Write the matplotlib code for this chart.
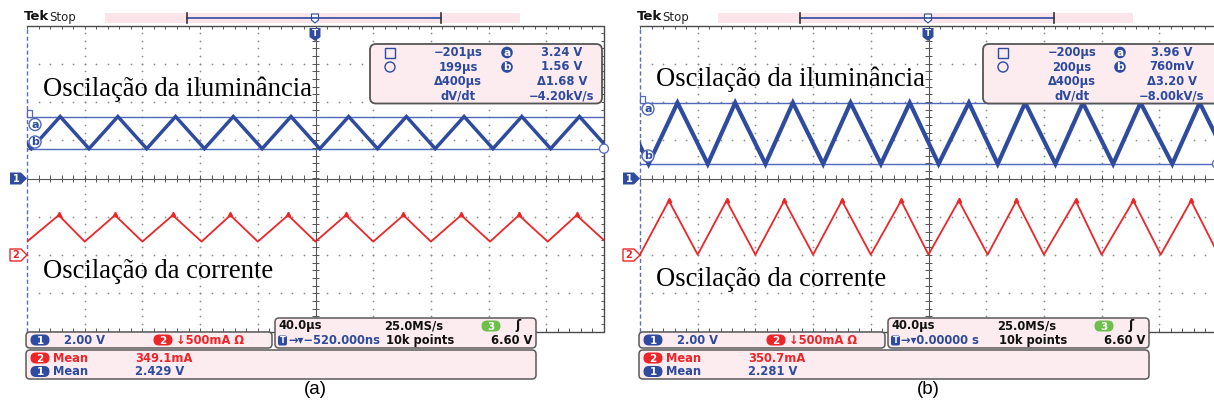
import matplotlib
matplotlib.use("Agg")
import matplotlib.pyplot as plt
from matplotlib.patches import FancyBboxPatch, Rectangle, Polygon, Circle
from matplotlib.collections import LineCollection
import numpy as np

W, H = 1214, 405

# ---------------- data ----------------
time_per_div_us = 40.0
ch1_volts_per_div = 2.0
ch2_amps_per_div = 0.5

# panel (a) - channel 1 (illuminance, V)
a_ch1_peak_t = [-217, -177, -137, -97, -57, -17, 23, 63, 103, 143, 183]
a_ch1_trough_t = [-197, -157, -117, -77, -37, 3, 43, 83, 123, 163, 203]
a_ch1_peak_v = 3.24
a_ch1_trough_v = 1.56
# panel (a) - channel 2 (current, A)
a_ch2_peak_t = [-218, -178, -139, -99, -59, -19, 21, 61, 101, 141, 181]
a_ch2_trough_t = [-200, -160, -120, -79, -40, 0, 40, 80, 121, 161, 201]
a_ch2_peak_a = 0.52
a_ch2_trough_a = 0.175

# panel (b) - channel 1
b_ch1_peak_t = [-214, -174, -134, -94, -54, -13, 28, 67, 107, 147, 188]
b_ch1_trough_t = [-194, -153, -113, -73, -33, 7, 48, 88, 128, 169, 209]
b_ch1_peak_v = 3.96
b_ch1_trough_v = 0.76
# panel (b) - channel 2
b_ch2_peak_t = [-220, -180, -140, -100, -60, -19, 21, 61, 102, 142, 182]
b_ch2_trough_t = [-200, -160, -120, -80, -40, 0, 41, 80, 120, 161, 201]
b_ch2_peak_a = 0.71
b_ch2_trough_a = 0.005

# cursor readouts
a_cursor_times = ["\u2212201\u00b5s", "199\u00b5s", "\u0394400\u00b5s", "dV/dt"]
a_cursor_vals = ["3.24 V", "1.56 V", "\u03941.68 V", "\u22124.20kV/s"]
b_cursor_times = ["\u2212200\u00b5s", "200\u00b5s", "\u0394400\u00b5s", "dV/dt"]
b_cursor_vals = ["3.96 V", "760mV", "\u03943.20 V", "\u22128.00kV/s"]

# status bars
ch1_scale_txt = "2.00 V"
ch2_scale_txt = "\u2193500mA \u03a9"
timebase_txt = "40.0\u00b5s"
sample_txt = "25.0MS/s"
points_txt = "10k points"
trig_level_txt = "6.60 V"
a_trig_pos_txt = "\u2192\u25be\u2212520.000ns"
b_trig_pos_txt = "\u2192\u25be0.00000 s"
a_mean_ch2 = "349.1mA"
a_mean_ch1 = "2.429 V"
b_mean_ch2 = "350.7mA"
b_mean_ch1 = "2.281 V"

label_illum = "Oscila\u00e7\u00e3o da ilumin\u00e2ncia"
label_curr = "Oscila\u00e7\u00e3o da corrente"
panel_labels = ["(a)", "(b)"]

# ---------------- styling ----------------
BLUE_W = "#2f4b9f"
BLUE_T = "#2c4a9e"
CURSOR = "#5069bb"
RED = "#ec2529"
PINK = "#fcebef"
EDGE = "#5a5a5a"
GRID = "#8c8c8c"
GREEN = "#6cc04a"
TEK_FONT = "DejaVu Sans"

fig = plt.figure(figsize=(W / 100, H / 100), dpi=100)
fig.patch.set_facecolor("white")


def zigzag(peaks_t, peak_v, troughs_t, trough_v):
    pts = [(t, peak_v) for t in peaks_t] + [(t, trough_v) for t in troughs_t]
    pts.sort()
    return [p[0] for p in pts], [p[1] for p in pts]


GRID_TOP, GRID_BOT = 25.5, 331.5
GRID_W = 577


def make_screen(left_px):
    ax = fig.add_axes([left_px / W, 1 - GRID_BOT / H, GRID_W / W, (GRID_BOT - GRID_TOP) / H])
    ax.set_xlim(-5 * time_per_div_us, 5 * time_per_div_us)
    ax.set_ylim(-4 * ch1_volts_per_div, 4 * ch1_volts_per_div)
    ax.axis("off")
    ax.set_zorder(1)
    ax2 = ax.twinx()
    # channel 2 ground is 2 divisions below centre
    ax2.set_ylim(-2 * ch2_amps_per_div, 6 * ch2_amps_per_div)
    ax2.axis("off")
    ax2.set_zorder(2)
    ax2.patch.set_visible(False)

    td = time_per_div_us
    vd = ch1_volts_per_div
    # dotted graticule
    ys = np.arange(-4, 4.01, 0.2) * vd
    xs = np.arange(-5, 5.01, 0.2) * td
    for k in [-4, -3, -2, -1, 1, 2, 3, 4]:
        ax.scatter(np.full(ys.size, k * td), ys, s=1.6, c=GRID, lw=0, zorder=1)
    for k in [-3, -2, -1, 1, 2, 3]:
        ax.scatter(xs, np.full(xs.size, k * vd), s=1.6, c=GRID, lw=0, zorder=1)
    # centre cross with ticks
    ax.plot([-5 * td, 5 * td], [0, 0], color="#555555", lw=0.8, zorder=2)
    ax.plot([0, 0], [-4 * vd, 4 * vd], color="#555555", lw=0.8, zorder=2)
    th = 0.09 * vd
    tw = 0.09 * td * (38.25 / 57.7)
    segs = [[(x, -th), (x, th)] for x in xs]
    segs += [[(-tw, y), (tw, y)] for y in ys]
    segs += [[(x, 4 * vd), (x, 4 * vd - th)] for x in xs]
    segs += [[(x, -4 * vd), (x, -4 * vd + th)] for x in xs]
    segs += [[(5 * td, y), (5 * td - tw, y)] for y in ys]
    ax.add_collection(LineCollection(segs, colors="#555555", linewidths=0.7, zorder=2))
    # border
    ax.plot([-5 * td, 5 * td, 5 * td, -5 * td], [4 * vd, 4 * vd, -4 * vd, -4 * vd],
            color="#4a4a4a", lw=1.0, clip_on=False, zorder=3)
    ax.plot([-5 * td, -5 * td], [-4 * vd, 4 * vd], color="#5a6fb5", lw=1.0,
            ls=(0, (3, 2)), clip_on=False, zorder=3)
    return ax, ax2


screens = [make_screen(27), make_screen(640)]

ch1_sets = [
    (a_ch1_peak_t, a_ch1_peak_v, a_ch1_trough_t, a_ch1_trough_v, 2.5),
    (b_ch1_peak_t, b_ch1_peak_v, b_ch1_trough_t, b_ch1_trough_v, 3.0),
]
ch2_sets = [
    (a_ch2_peak_t, a_ch2_peak_a, a_ch2_trough_t, a_ch2_trough_a),
    (b_ch2_peak_t, b_ch2_peak_a, b_ch2_trough_t, b_ch2_trough_a),
]

for (ax, ax2), c1, c2 in zip(screens, ch1_sets, ch2_sets):
    t, v = zigzag(c1[0], c1[1], c1[2], c1[3])
    ax.axhline(c1[1], color=CURSOR, lw=1.0, zorder=4)
    ax.axhline(c1[3], color=CURSOR, lw=1.0, zorder=4)
    ax.plot(t, v, color=BLUE_W, lw=c1[4], solid_joinstyle="miter", zorder=5)
    t2, i2 = zigzag(c2[0], c2[1], c2[2], c2[3])
    ax2.plot(t2, i2, color=RED, lw=1.3, zorder=5)
    ax2.plot(c2[0], [c2[1] + 0.012] * len(c2[0]), ls="none", marker="^", ms=3.2,
             color=RED, zorder=6)

# ---------------- overlay (pixel coordinates) ----------------
ov = fig.add_axes([0, 0, 1, 1])
ov.set_xlim(0, W)
ov.set_ylim(H, 0)
ov.axis("off")
ov.set_zorder(10)
ov.patch.set_visible(False)


def rbox(x0, y0, x1, y1, r=4, fc=PINK, ec=EDGE, lw=1.1):
    ov.add_patch(FancyBboxPatch((x0, y0), x1 - x0, y1 - y0,
                                boxstyle=f"round,pad=0,rounding_size={r}",
                                fc=fc, ec=ec, lw=lw))


def pill(cx, cy, txt, fc, w=19, h=11, tc="white"):
    ov.add_patch(FancyBboxPatch((cx - w / 2, cy - h / 2), w, h,
                                boxstyle=f"round,pad=0,rounding_size={h / 2}",
                                fc=fc, ec="none"))
    ov.text(cx, cy + 0.5, txt, color=tc, fontsize=7.5, fontweight="bold",
            family=TEK_FONT, ha="center", va="center")


def tektext(x, y, s, color, ha="left", size=8.3, weight="bold"):
    ov.text(x, y, s, color=color, fontsize=size, fontweight=weight,
            family=TEK_FONT, ha=ha, va="center")


panel_cfg = [
    dict(off=0, times=a_cursor_times, vals=a_cursor_vals, trig=a_trig_pos_txt,
         m2=a_mean_ch2, m1=a_mean_ch1, la=(35, 124.5), lb=(35, 142),
         ya=a_ch1_peak_v, yb=a_ch1_trough_v, illum_y=89, curr_y=271,
         tcen=458, vcen=562),
    dict(off=613, times=b_cursor_times, vals=b_cursor_vals, trig=b_trig_pos_txt,
         m2=b_mean_ch2, m1=b_mean_ch1, la=(648, 109), lb=(648, 156),
         ya=b_ch1_peak_v, yb=b_ch1_trough_v, illum_y=79, curr_y=280,
         tcen=1072, vcen=1172),
]

CENTER_Y = (GRID_TOP + GRID_BOT) / 2
PX_PER_DIV = (GRID_BOT - GRID_TOP) / 8

for k, cfg in enumerate(panel_cfg):
    o = cfg["off"]
    # top status
    ov.text(24 + o, 17, "Tek", fontsize=9.5, fontweight="bold", family="DejaVu Sans",
            ha="left", va="center", color="#111111")
    ov.text(49 + o, 17, "Stop", fontsize=8.5, family="DejaVu Sans", ha="left",
            va="center", color="#222222")
    ov.add_patch(Rectangle((105 + o, 12.5), 415, 10.5, fc="#fbe4ea", ec="none"))
    ov.plot([187 + o, 441 + o], [18, 18], color=BLUE_T, lw=1.2)
    ov.plot([187 + o, 187 + o], [13, 23], color="#333333", lw=1.2)
    ov.plot([441 + o, 441 + o], [13, 23], color="#333333", lw=1.2)
    ov.add_patch(Polygon([(311.5 + o, 14), (318.5 + o, 14), (318.5 + o, 20),
                          (315 + o, 23), (311.5 + o, 20)], closed=True,
                         fc="white", ec=BLUE_T, lw=0.8))
    # trigger marker
    ov.add_patch(Polygon([(309.5 + o, 28), (320.5 + o, 28), (320.5 + o, 37),
                          (315 + o, 41), (309.5 + o, 37)], closed=True, fc=BLUE_W, ec="none"))
    ov.text(315 + o, 33.5, "T", color="white", fontsize=6.5, fontweight="bold",
            ha="center", va="center")
    # channel ground markers
    y1 = CENTER_Y
    ov.add_patch(Polygon([(10 + o, y1 - 6), (21 + o, y1 - 6), (27 + o, y1),
                          (21 + o, y1 + 6), (10 + o, y1 + 6)], closed=True, fc=BLUE_W, ec="none"))
    ov.text(16 + o, y1 + 0.5, "1", color="white", fontsize=7, fontweight="bold",
            ha="center", va="center")
    y2 = CENTER_Y + 2 * PX_PER_DIV
    ov.add_patch(Polygon([(10 + o, y2 - 6), (21 + o, y2 - 6), (27 + o, y2),
                          (21 + o, y2 + 6), (10 + o, y2 + 6)], closed=True, fc="white",
                         ec=RED, lw=1.0))
    ov.text(16 + o, y2 + 0.5, "2", color=RED, fontsize=7, fontweight="bold",
            ha="center", va="center")
    # cursor markers on screen
    ya_px = CENTER_Y - cfg["ya"] / ch1_volts_per_div * PX_PER_DIV
    yb_px = CENTER_Y - cfg["yb"] / ch1_volts_per_div * PX_PER_DIV
    ov.add_patch(Rectangle((27 + o, ya_px - 7), 5, 7, fc="white", ec=CURSOR, lw=0.9))
    ov.add_patch(Circle((604 + o, yb_px), 4.5, fc="white", ec=CURSOR, lw=0.9))
    for (cx, cy), lt in ((cfg["la"], "a"), (cfg["lb"], "b")):
        ov.add_patch(Circle((cx, cy), 6, fc="white", ec=CURSOR, lw=1.0))
        ov.text(cx, cy + 0.3, lt, color=BLUE_T, fontsize=8, fontweight="bold",
                ha="center", va="center")
    # big serif labels
    ov.text(43 + o, cfg["illum_y"], label_illum, family="Liberation Serif",
            fontsize=19.2, ha="left", va="center", color="black")
    ov.text(43 + o, cfg["curr_y"], label_curr, family="Liberation Serif",
            fontsize=19.2, ha="left", va="center", color="black")
    # cursor readout box
    rbox(370 + o, 44, 602 + o + (12 if k == 1 else 0), 103.5, r=6, ec="#555555", lw=1.3)
    rows = [52.5, 67, 81.5, 96]
    ov.add_patch(Rectangle((385 + o, rows[0] - 5), 10, 10, fc="none", ec=BLUE_T, lw=1.0))
    ov.add_patch(Circle((390 + o, rows[1]), 5, fc="none", ec=BLUE_T, lw=1.0))
    for r, s in zip(rows, cfg["times"]):
        tektext(cfg["tcen"], r, s, BLUE_T, ha="center")
    for r, s in zip(rows, cfg["vals"]):
        tektext(cfg["vcen"], r, s, BLUE_T, ha="center")
    for r, lt in zip(rows[:2], ["a", "b"]):
        ov.add_patch(Circle((507 + o, r), 5.8, fc=BLUE_W, ec="none"))
        ov.text(507 + o, r + 0.3, lt, color="white", fontsize=7.5, fontweight="bold",
                ha="center", va="center")
    # bottom boxes
    rbox(26 + o, 332, 272 + o, 348)
    pill(40 + o, 340, "1", BLUE_W)
    tektext(64 + o, 340, ch1_scale_txt, BLUE_T)
    pill(163 + o, 340, "2", RED)
    tektext(176 + o, 340, ch2_scale_txt, RED)

    rbox(275 + o, 318, 536 + o, 348)
    tektext(278 + o, 326, timebase_txt, "#111111")
    tektext(384 + o, 326, sample_txt, "#111111")
    pill(491 + o, 326, "3", GREEN)
    ov.text(518 + o, 326, "\u0283", fontsize=9, fontweight="bold", color="#111111",
            ha="center", va="center", family=TEK_FONT)
    ov.add_patch(FancyBboxPatch((278 + o, 335.5), 9, 10,
                                boxstyle="round,pad=0,rounding_size=2", fc=BLUE_W, ec="none"))
    ov.text(282.5 + o, 340.8, "T", color="white", fontsize=6, fontweight="bold",
            ha="center", va="center")
    tektext(288 + o, 340.5, cfg["trig"], BLUE_T)
    tektext(386 + o, 340.5, points_txt, "#111111")
    tektext(532 + o, 340.5, trig_level_txt, "#111111", ha="right")

    rbox(26 + o, 350, 536 + o, 379)
    pill(40 + o, 358, "2", RED)
    tektext(53 + o, 358, "Mean", RED)
    tektext(135 + o, 358, cfg["m2"], RED)
    pill(40 + o, 371.5, "1", BLUE_W)
    tektext(53 + o, 371.5, "Mean", BLUE_T)
    tektext(135 + o, 371.5, cfg["m1"], BLUE_T)

    ov.text(315 + o, 390, panel_labels[k], family="Liberation Sans", fontsize=13.5,
            ha="center", va="center", color="black")

fig.savefig("out.png", dpi=100, facecolor="white")
